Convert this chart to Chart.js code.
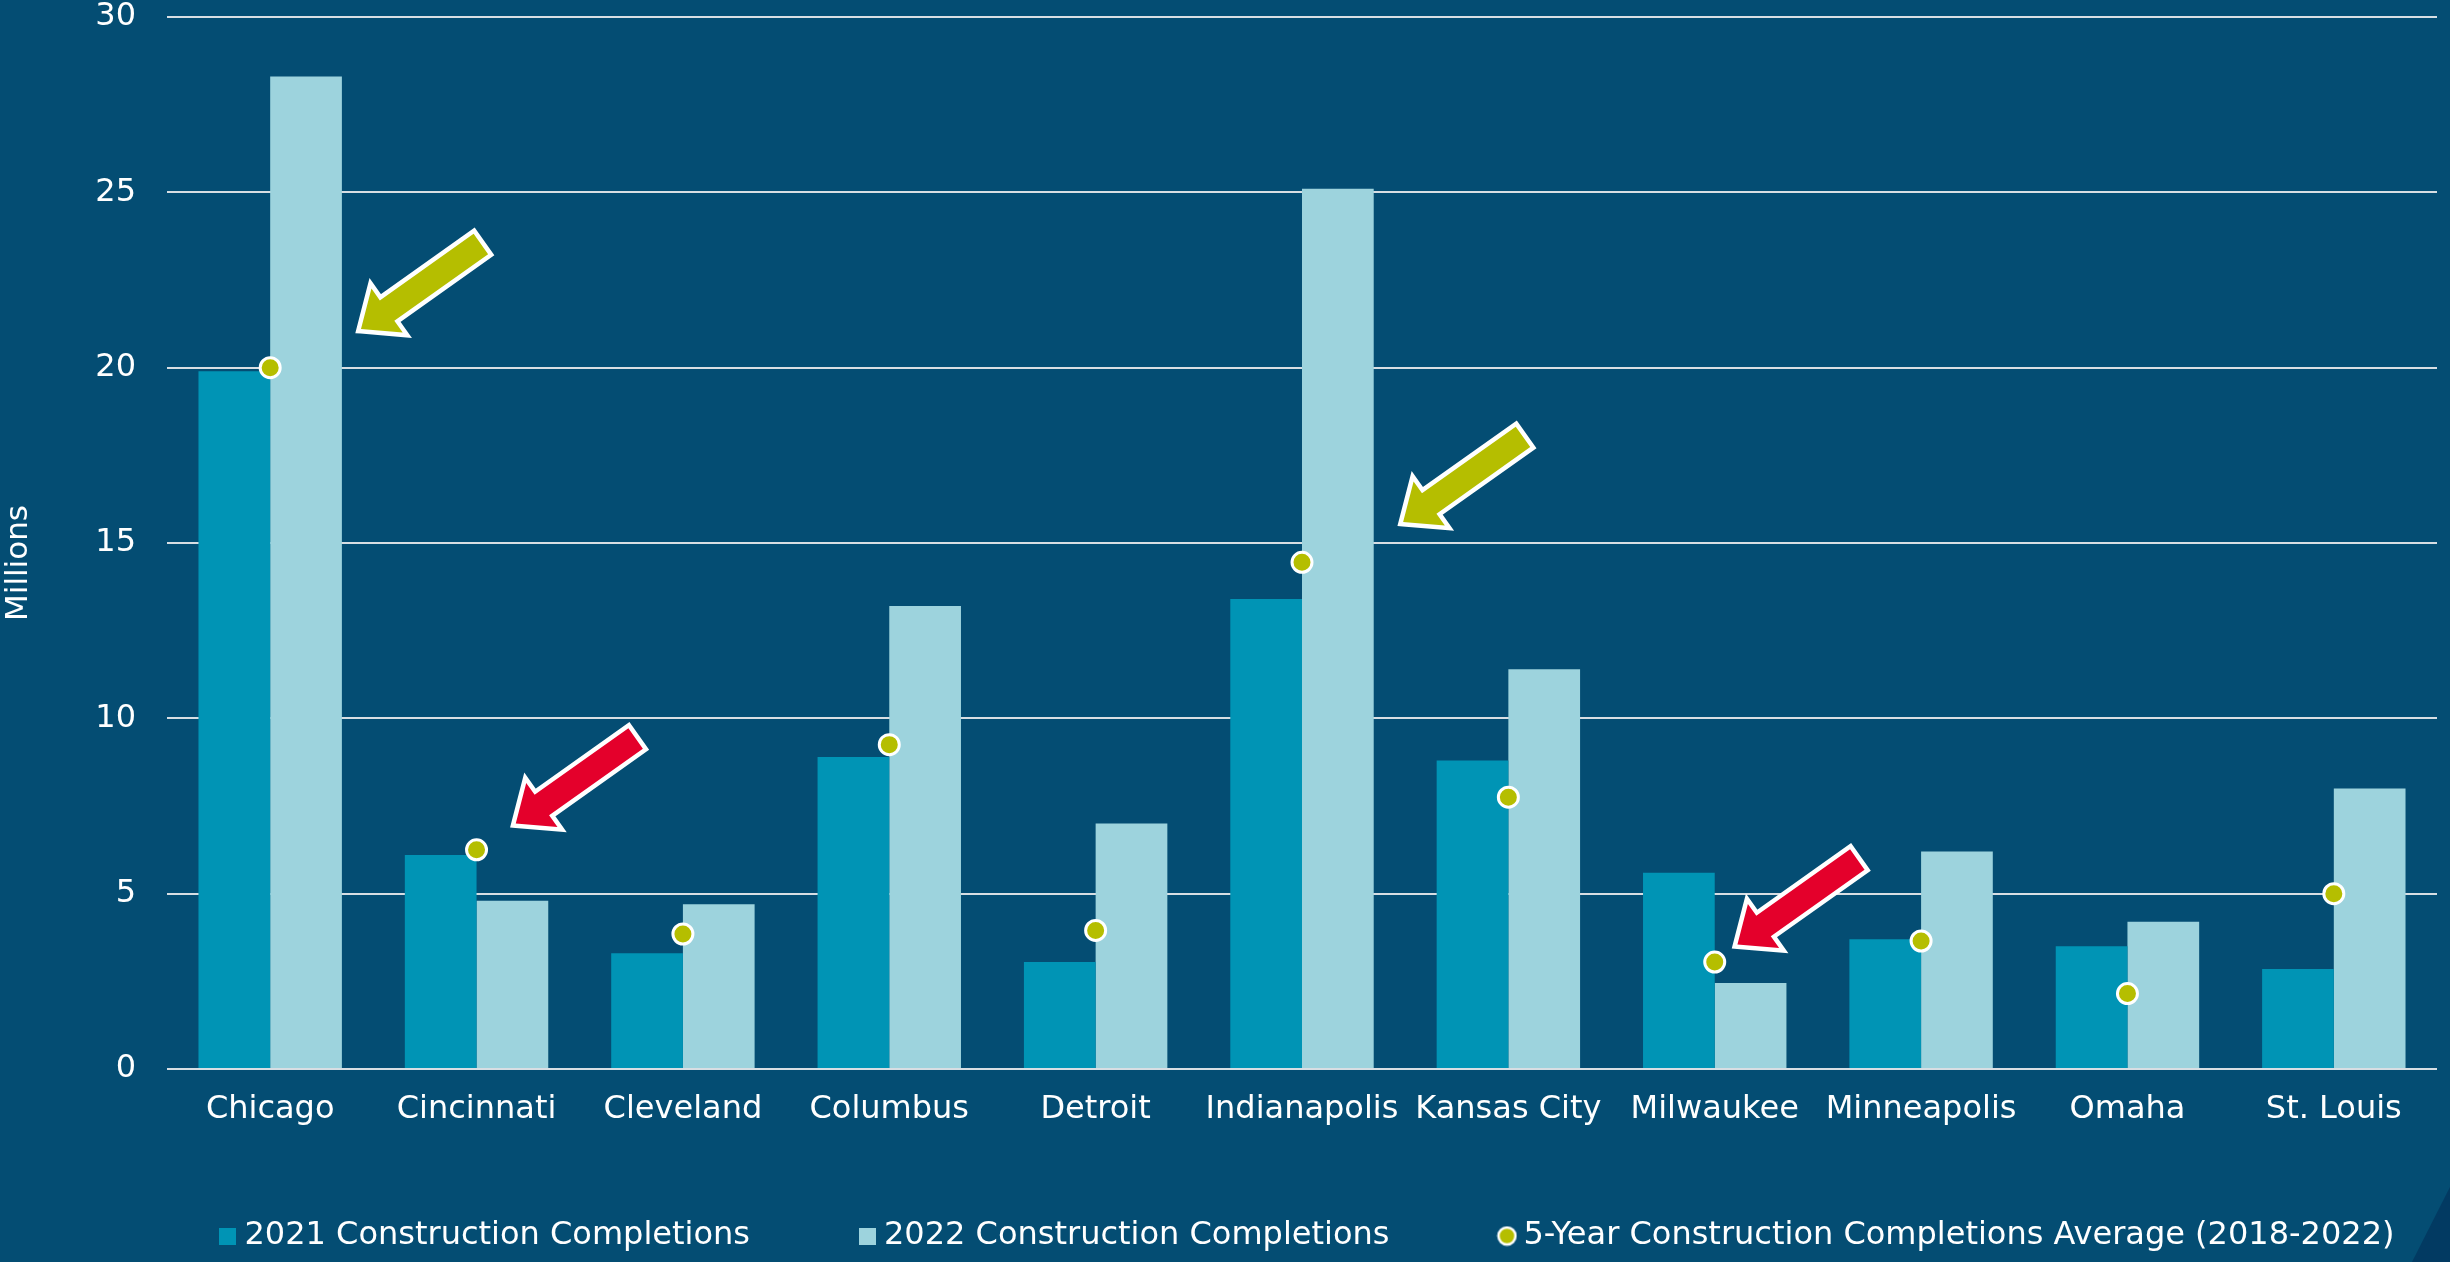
<!DOCTYPE html>
<html>
<head>
<meta charset="utf-8">
<script src="https://cdn.jsdelivr.net/npm/chart.js@4.4.1/dist/chart.umd.min.js"></script>
<style>
  html, body { margin: 0; padding: 0; background: #044D73; }
  #wrap { width: 2450px; height: 1262px; position: relative; }
  canvas { display: block; }
</style>
</head>
<body>
<div id="wrap"><canvas id="chart" width="2450" height="1262"></canvas></div>
<script>
// ---- Data ----
const categories = ['Chicago', 'Cincinnati', 'Cleveland', 'Columbus', 'Detroit', 'Indianapolis', 'Kansas City', 'Milwaukee', 'Minneapolis', 'Omaha', 'St. Louis'];
const completions2021 = [19.9, 6.1, 3.3, 8.9, 3.05, 13.4, 8.8, 5.6, 3.7, 3.5, 2.85];
const completions2022 = [28.3, 4.8, 4.7, 13.2, 7.0, 25.1, 11.4, 2.45, 6.2, 4.2, 8.0];
const fiveYearAverage = [20.0, 6.25, 3.85, 9.25, 3.95, 14.45, 7.75, 3.05, 3.65, 2.15, 5.0];
const yTickValues = [0, 5, 10, 15, 20, 25, 30];
const seriesNames = ['2021 Construction Completions', '2022 Construction Completions', '5-Year Construction Completions Average (2018-2022)'];
const yAxisTitle = 'Millions';
// Callout arrows: category they point at and the value level of the arrow tip
const arrowCategories = ['Chicago', 'Cincinnati', 'Indianapolis', 'Milwaukee'];
const arrowValues = [21.1, 7.0, 15.6, 3.55];
const arrowKinds = ['good', 'bad', 'good', 'bad'];

// ---- Styles ----
const BG = '#044D73';
const C2021 = '#0094B5';
const C2022 = '#9DD3DD';
const CDOT = '#B5BE00';
const CRED = '#E4002B';
const GRID = '#D8DEE3';
const FONT = '"DejaVu Sans", "Open Sans", sans-serif';
const arrowColorByKind = { good: CDOT, bad: CRED };
const arrowOffsetFrac = [0.44, 0.19, 0.49, 0.11]; // horizontal offset of tip from category centre (fraction of category width)

function legendIcon(kind, color) {
  const c = document.createElement('canvas');
  if (kind === 'rect') {
    c.width = 17; c.height = 17;
    const g = c.getContext('2d');
    g.fillStyle = color; g.fillRect(0, 0, 17, 17);
  } else {
    c.width = 21; c.height = 21;
    const g = c.getContext('2d');
    g.beginPath(); g.arc(10.5, 10.5, 8.5, 0, Math.PI * 2);
    g.fillStyle = color; g.fill();
    g.lineWidth = 2.5; g.strokeStyle = '#ffffff'; g.stroke();
  }
  return c;
}
const legendIcons = [legendIcon('rect', C2021), legendIcon('rect', C2022), legendIcon('circle', CDOT)];

function drawArrow(ctx, tipX, tipY, color) {
  const ang = Math.atan2(-88, 124);
  const ux = Math.cos(ang), uy = Math.sin(ang);
  const px = -uy, py = ux;
  const L = 147, H = 32, HW = 27, SW = 12.5;
  const pt = (a, b) => [tipX + ux * a + px * b, tipY + uy * a + py * b];
  const poly = [pt(0, 0), pt(H, HW), pt(H, SW), pt(L, SW), pt(L, -SW), pt(H, -SW), pt(H, -HW)];
  ctx.save();
  ctx.beginPath();
  poly.forEach((p, i) => i ? ctx.lineTo(p[0], p[1]) : ctx.moveTo(p[0], p[1]));
  ctx.closePath();
  ctx.lineJoin = 'miter';
  ctx.miterLimit = 4;
  ctx.lineWidth = 9;
  ctx.strokeStyle = '#ffffff';
  ctx.stroke();
  ctx.fillStyle = color;
  ctx.fill();
  ctx.restore();
}

const backgroundPlugin = {
  id: 'bg',
  beforeDraw(chart) {
    const { ctx, width, height } = chart;
    ctx.save();
    ctx.fillStyle = BG;
    ctx.fillRect(0, 0, width, height);
    ctx.fillStyle = '#023A62';
    ctx.beginPath();
    ctx.moveTo(width, height - 75);
    ctx.lineTo(width, height);
    ctx.lineTo(width - 38, height);
    ctx.closePath();
    ctx.fill();
    ctx.restore();
  }
};

const arrowPlugin = {
  id: 'arrows',
  afterDatasetsDraw(chart) {
    const x = chart.scales.x, y = chart.scales.y;
    const catW = (x.right - x.left) / categories.length;
    arrowCategories.forEach((cat, i) => {
      const idx = categories.indexOf(cat);
      const tipX = x.getPixelForValue(idx) + arrowOffsetFrac[i] * catW;
      const tipY = y.getPixelForValue(arrowValues[i]);
      drawArrow(chart.ctx, tipX, tipY, arrowColorByKind[arrowKinds[i]]);
    });
  }
};

// small layout tweaks after Chart.js has placed its boxes
const layoutTweakPlugin = {
  id: 'layoutTweak',
  afterLayout(chart) {
    // let the category labels draw below the short x-axis box without being clipped
    chart.scales.x.bottom = chart.height;
    // move the centred y-axis title a little lower, as in the original
    chart.scales.y.bottom += 40;
    // legend block sits slightly right of centre in the original
    if (chart.legend) {
      chart.legend.left += 86;
      chart.legend.right += 86;
    }
  }
};

Chart.defaults.font.family = FONT;
Chart.defaults.color = '#ffffff';

new Chart(document.getElementById('chart'), {
  type: 'bar',
  data: {
    labels: categories,
    datasets: [
      { label: seriesNames[0], data: completions2021, backgroundColor: C2021, order: 2,
        categoryPercentage: 0.695, barPercentage: 1.0 },
      { label: seriesNames[1], data: completions2022, backgroundColor: C2022, order: 2,
        categoryPercentage: 0.695, barPercentage: 1.0 },
      { type: 'line', label: seriesNames[2], data: fiveYearAverage, showLine: false,
        pointRadius: 10, pointHoverRadius: 10, pointBackgroundColor: CDOT, pointBorderColor: '#ffffff',
        pointBorderWidth: 3, backgroundColor: CDOT, borderColor: '#ffffff', order: 1 }
    ]
  },
  options: {
    responsive: false,
    devicePixelRatio: 1,
    animation: false,
    layout: { padding: { left: 0, right: 0, top: 0, bottom: 0 } },
    plugins: {
      tooltip: { enabled: false },
      legend: {
        position: 'bottom',
        labels: {
          color: '#ffffff',
          font: { size: 32, family: FONT },
          usePointStyle: true,
          boxWidth: 1,
          boxHeight: 17,
          padding: 117,
          sort: (a, b) => a.datasetIndex - b.datasetIndex,
          generateLabels(chart) {
            const items = Chart.defaults.plugins.legend.labels.generateLabels(chart);
            items.forEach(it => { it.pointStyle = legendIcons[it.datasetIndex]; it.fontColor = '#ffffff'; });
            return items;
          }
        }
      }
    },
    scales: {
      x: {
        grid: { display: false, drawTicks: false },
        border: { display: false },
        ticks: { color: '#ffffff', font: { size: 32, family: FONT }, padding: 21, maxRotation: 0, autoSkip: false },
        afterFit(scale) { scale.height = 34; }
      },
      y: {
        min: 0, max: 30,
        afterBuildTicks(scale) { scale.ticks = yTickValues.map(v => ({ value: v })); },
        grid: { color: GRID, lineWidth: 2, drawTicks: false },
        border: { display: false },
        ticks: { color: '#ffffff', font: { size: 32, family: FONT }, padding: 31 },
        title: { display: true, text: yAxisTitle, color: '#ffffff', font: { size: 31, family: FONT }, padding: 0 },
        afterFit(scale) { scale.width = 167; scale.paddingTop = 17; scale.paddingBottom = 17; }
      }
    }
  },
  plugins: [backgroundPlugin, arrowPlugin, layoutTweakPlugin]
});
</script>
</body>
</html>
